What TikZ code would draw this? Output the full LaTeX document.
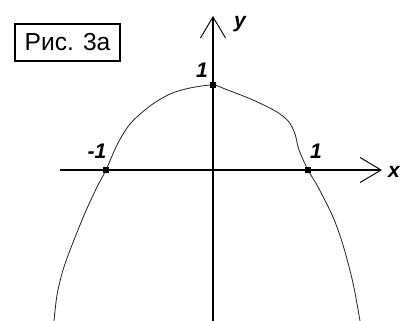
\documentclass[tikz,border=0pt]{standalone}
\usepackage{fontspec}
\setmainfont{Liberation Sans}
\usetikzlibrary{arrows.meta}
\tikzset{
    % axes with open arrow heads
    axis line/.style={
        line width=1.1pt,
        -{Straight Barb[length=0.63cm, width=0.75cm, line width=0.8pt]}
    },
    graph curve/.style={
        line width=0.7pt,
        black!85
    },
    axis label/.style={
        inner sep=0pt,
        font=\fontsize{18}{21}\selectfont\bfseries\itshape
    },
    point dot/.style={
        rectangle,
        fill=black,
        inner sep=0pt,
        minimum size=0.2cm
    },
    title box/.style={
        rectangle,
        draw=black,
        line width=1.2pt,
        minimum width=3.15cm,
        minimum height=1.11cm,
        inner sep=0pt,
        font=\fontsize{21}{25}\selectfont
    }
}

\begin{document}
\begin{tikzpicture}[x=0.03cm, y=-0.03cm]
        \useasboundingbox (0,0) rectangle (400,321);

        % Title
        \node[title box] (title) at (67.5, 42.5) {Рис. 3а};

        % Axes
        \coordinate (xstart) at (60, 170);
        \coordinate (xend) at (382, 170);
        \coordinate (ystart) at (213, 321);
        \coordinate (yend) at (213, 16);
        \draw[axis line] (xstart) -- (xend);
        \draw[axis line] (ystart) -- (yend);
        \node[axis label] (xlabel) at (394, 172) {x};
        \node[axis label] (ylabel) at (240, 24) {y};

        % Curve
        \draw[graph curve] plot[smooth, tension=0.5] coordinates {
            (54,321) (57,295) (63,270) (72,245) (85,213) (97,187) (106,170)
            (117,145) (130,124) (150,106) (170,94) (190,88)
            (213,85) (225,89) (253,100) (277,112) (289,122) (295,134)
            (299,150) (308,170) (318,187) (333,217)
            (343,245) (353,283) (360,321)
        };

        % Points
        \node[point dot] (pminus) at (106, 170) {};
        \node[point dot] (pplus) at (308, 170) {};
        \node[point dot] (pzero) at (213, 85) {};
        \node[axis label] (lminus) at (97, 151) {-1};
        \node[axis label] (lplus) at (316, 151) {1};
        \node[axis label] (lzero) at (202, 70) {1};
    \end{tikzpicture}
\end{document}
